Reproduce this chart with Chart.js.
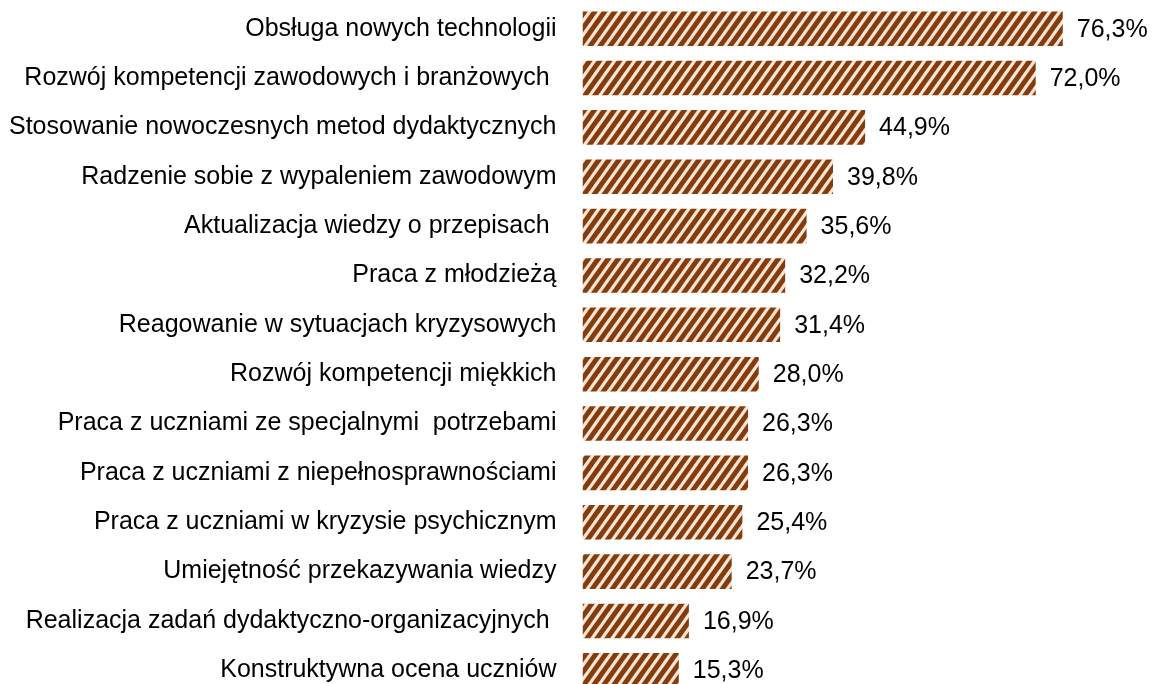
<!DOCTYPE html>
<html>
<head>
<meta charset="utf-8">
<script src="https://cdn.jsdelivr.net/npm/chart.js@4/dist/chart.umd.min.js"></script>
<style>
html,body{margin:0;padding:0;background:#fff;overflow:hidden;}
#wrap{width:1152px;height:700px;position:relative;}
</style>
</head>
<body>
<div id="wrap"><canvas id="c" width="1152" height="700"></canvas></div>
<script>
const categories = [
  "Obsługa nowych technologii",
  "Rozwój kompetencji zawodowych i branżowych ",
  "Stosowanie nowoczesnych metod dydaktycznych",
  "Radzenie sobie z wypaleniem zawodowym",
  "Aktualizacja wiedzy o przepisach ",
  "Praca z młodzieżą",
  "Reagowanie w sytuacjach kryzysowych",
  "Rozwój kompetencji miękkich",
  "Praca z uczniami ze specjalnymi  potrzebami",
  "Praca z uczniami z niepełnosprawnościami",
  "Praca z uczniami w kryzysie psychicznym",
  "Umiejętność przekazywania wiedzy",
  "Realizacja zadań dydaktyczno-organizacyjnych ",
  "Konstruktywna ocena uczniów"
];
const values = [76.3, 72.0, 44.9, 39.8, 35.6, 32.2, 31.4, 28.0, 26.3, 26.3, 25.4, 23.7, 16.9, 15.3];

const FONT = "'Liberation Sans', Arial, sans-serif";

function makePattern(ctx) {
  const W = 10, H = 14, B = 6;
  const t = document.createElement('canvas');
  t.width = W; t.height = H;
  const g = t.getContext('2d');
  g.fillStyle = '#FBE5D6';
  g.fillRect(0, 0, W, H);
  g.fillStyle = '#843C0C';
  for (let k = -W; k <= W; k += W) {
    g.beginPath();
    g.moveTo(k, H);
    g.lineTo(k + B, H);
    g.lineTo(k + B + W, 0);
    g.lineTo(k + W, 0);
    g.closePath();
    g.fill();
  }
  return ctx.createPattern(t, 'repeat');
}

const valueLabels = {
  id: 'valueLabels',
  afterDatasetsDraw(chart) {
    const ctx = chart.ctx;
    const meta = chart.getDatasetMeta(0);
    ctx.save();
    ctx.font = "25px " + FONT;
    ctx.fillStyle = '#000';
    ctx.textAlign = 'left';
    ctx.textBaseline = 'middle';
    meta.data.forEach((bar, i) => {
      const txt = values[i].toFixed(1).replace('.', ',') + '%';
      ctx.fillText(txt, bar.x + 14, bar.y + 1);
    });
    ctx.restore();
  }
};

const canvas = document.getElementById('c');
const ctx = canvas.getContext('2d');
new Chart(ctx, {
  type: 'bar',
  data: {
    labels: categories,
    datasets: [{
      data: values,
      backgroundColor: makePattern(ctx),
      borderWidth: 0,
      categoryPercentage: 1.0,
      barPercentage: 0.7
    }]
  },
  options: {
    indexAxis: 'y',
    responsive: false,
    animation: false,
    devicePixelRatio: 1,
    layout: { padding: { left: 0, right: 3, top: 4, bottom: 5 } },
    plugins: { legend: { display: false }, tooltip: { enabled: false } },
    scales: {
      x: { display: false, min: 0, max: 90 },
      y: {
        grid: { display: false, drawTicks: false },
        border: { display: false },
        ticks: { color: '#000', font: { size: 25, family: FONT }, padding: 26, autoSkip: false },
        afterFit(scale) {
          scale.width = 582.5;
          scale.paddingTop = 0;
          scale.paddingBottom = 0;
        }
      }
    }
  },
  plugins: [valueLabels]
});
</script>
</body>
</html>
